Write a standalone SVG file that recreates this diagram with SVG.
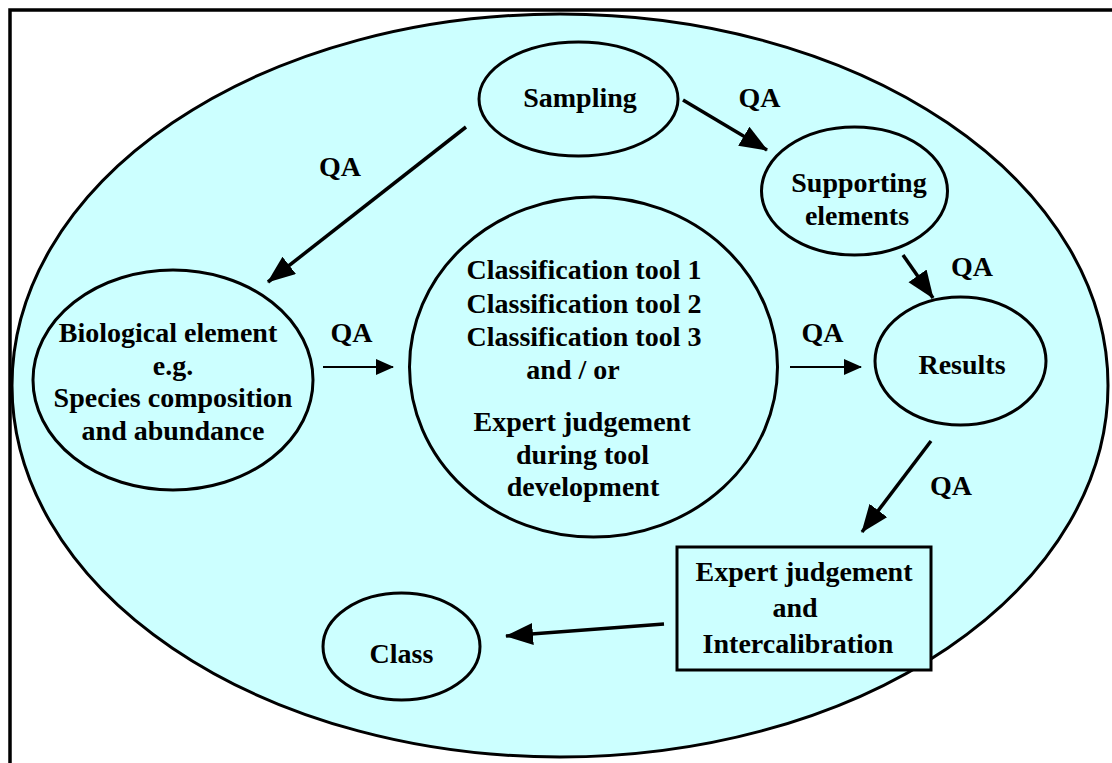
<svg xmlns="http://www.w3.org/2000/svg" width="1112" height="763" viewBox="0 0 1112 763">
<style>
.n{fill:#CCFFFF;stroke:#000;stroke-width:3}
.thick{stroke:#000;stroke-width:3.5;fill:none}
.thin{stroke:#000;stroke-width:2;fill:none}
</style>
<defs>
<marker id="ah" markerUnits="userSpaceOnUse" markerWidth="30" markerHeight="24" refX="27" refY="11" orient="auto"><path d="M0,0 L28,11 L0,22 z" fill="#000"/></marker>
<marker id="as" markerUnits="userSpaceOnUse" markerWidth="20" markerHeight="18" refX="17" refY="8" orient="auto"><path d="M0,0 L18,8 L0,16 z" fill="#000"/></marker>
</defs>
<rect x="0" y="0" width="1112" height="763" fill="#fff"/>
<rect x="10" y="10" width="1110" height="770" fill="none" stroke="#000" stroke-width="3.5"/>
<g id="outer"><ellipse cx="560" cy="385.5" rx="548" ry="371.5" class="n"/></g>
<g font-family="'Liberation Serif', 'Times New Roman', 'DejaVu Serif', serif" font-weight="bold" font-size="28" text-anchor="middle" fill="#000">
<g id="sampling"><ellipse cx="578.5" cy="99" rx="99.5" ry="57" class="n"/><text x="580" y="107">Sampling</text></g>
<g id="supporting"><ellipse cx="854.5" cy="191" rx="93" ry="64" class="n"/><text x="859" y="192">Supporting</text><text x="857" y="225">elements</text></g>
<g id="biological"><ellipse cx="173" cy="380" rx="140" ry="110" class="n"/><text x="168" y="342">Biological element</text><text x="173" y="375">e.g.</text><text x="173" y="407">Species composition</text><text x="173" y="440">and abundance</text></g>
<g id="classification"><ellipse cx="593.5" cy="367" rx="184" ry="170" class="n"/><text x="584" y="279">Classification tool 1</text><text x="584" y="313">Classification tool 2</text><text x="584" y="346">Classification tool 3</text><text x="573" y="379">and / or</text><text x="582" y="431">Expert judgement</text><text x="582.5" y="464">during tool</text><text x="583" y="496">development</text></g>
<g id="results"><ellipse cx="960.5" cy="361" rx="85.5" ry="64" class="n"/><text x="962" y="374">Results</text></g>
<g id="expert"><rect x="677" y="547" width="254" height="123" class="n"/><text x="804" y="581">Expert judgement</text><text x="795" y="617">and</text><text x="798" y="653">Intercalibration</text></g>
<g id="class"><ellipse cx="401.5" cy="646.5" rx="78.5" ry="53.5" class="n"/><text x="401.5" y="663">Class</text></g>
<g id="connectors">
<line class="thick" x1="466" y1="127" x2="268" y2="282" marker-end="url(#ah)"/>
<line class="thick" x1="683" y1="100" x2="767" y2="150" marker-end="url(#ah)"/>
<line class="thick" x1="903" y1="255" x2="933" y2="298" marker-end="url(#ah)"/>
<line class="thin" x1="323" y1="367" x2="393" y2="367" marker-end="url(#as)"/>
<line class="thin" x1="790" y1="367" x2="861" y2="367" marker-end="url(#as)"/>
<line class="thick" x1="931" y1="441" x2="862" y2="532" marker-end="url(#ah)"/>
<line class="thick" x1="664" y1="624" x2="506" y2="636" marker-end="url(#ah)"/>
<text x="340" y="176">QA</text>
<text x="759.5" y="107">QA</text>
<text x="972" y="276">QA</text>
<text x="351.5" y="342">QA</text>
<text x="822.5" y="342">QA</text>
<text x="951" y="495">QA</text>
</g>
</g>
</svg>
